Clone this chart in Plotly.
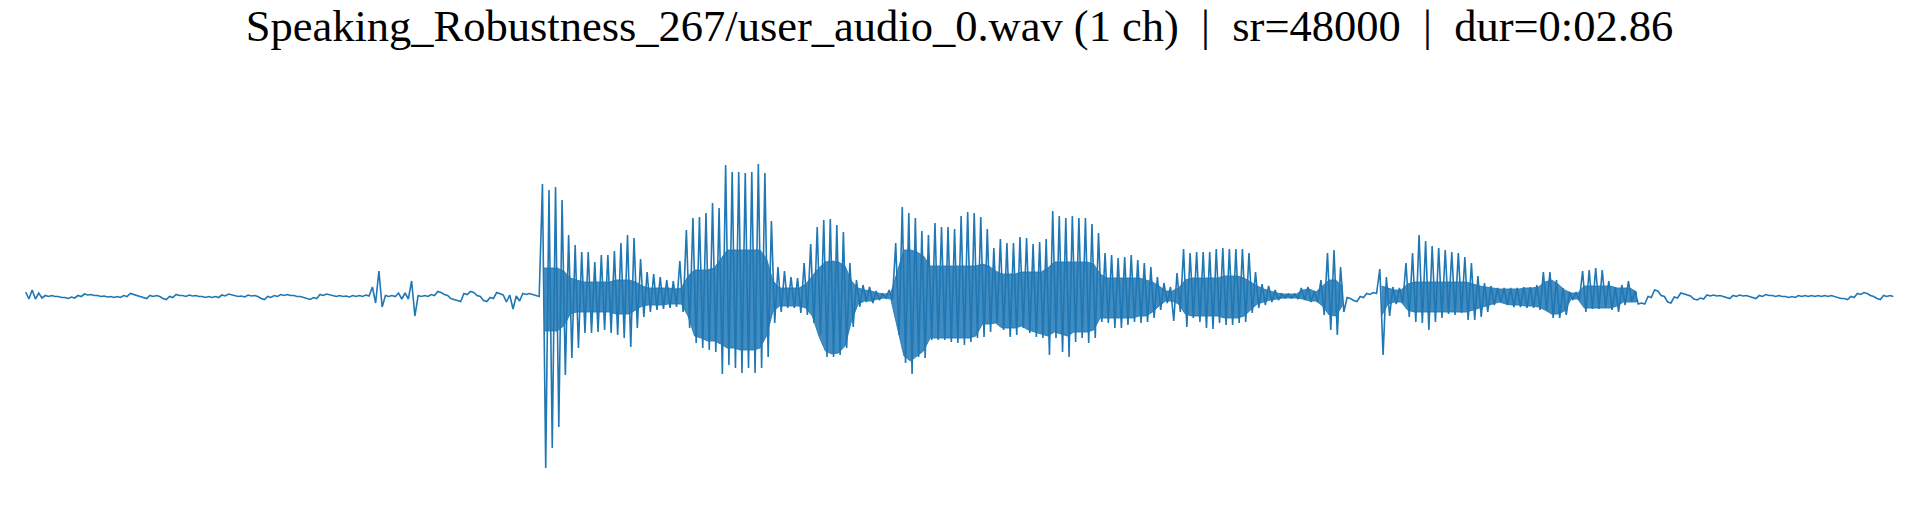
import plotly.graph_objects as go

# Audio envelope, one bin per 10 ms (0 .. 2.86 s).
# Values are amplitudes in thousandths of full scale.
BIN_S = 0.01
DURATION_S = 2.86
TITLE = "Speaking_Robustness_267/user_audio_0.wav (1 ch) \u00a0|\u00a0 sr=48000 \u00a0|\u00a0 dur=0:02.86"

# outer (peak) envelope
peak_hi = [
    16, 24, 12, 2, 2, -2, -6, -4, 2, 8,
    6, 2, 0, -2, -2, 2, 10, 2, -6, 2,
    2, -10, -2, 6, 2, 4, 2, -2, -2, -2,
    4, 8, 2, 0, 4, 2, -10, -2, 2, 6,
    6, 2, -2, -10, -6, 6, 8, 2, 2, 0,
    2, 2, 4, 36, 100, 2, 2, 12, 12, 60,
    2, 2, 6, 18, 6, -10, -18, 10, 18, 2,
    -18, -6, 14, 4, 4, 0, 10, 10, 2, 448,
    424, 436, 384, 244, 204, 176, 176, 136, 164, 164,
    180, 212, 244, 232, 148, 96, 88, 76, 64, 60,
    140, 264, 312, 316, 332, 372, 352, 524, 496, 496,
    492, 496, 528, 492, 300, 116, 100, 76, 72, 132,
    208, 276, 304, 308, 284, 256, 132, 64, 44, 36,
    20, 8, 24, 212, 356, 332, 312, 260, 244, 292,
    276, 276, 268, 320, 336, 332, 316, 268, 192, 228,
    212, 212, 236, 232, 208, 216, 228, 340, 320, 312,
    320, 312, 312, 288, 252, 172, 164, 152, 156, 164,
    144, 132, 116, 76, 52, 36, 92, 188, 172, 176,
    176, 176, 188, 192, 188, 188, 188, 172, 96, 48,
    40, 24, 8, 8, 8, 32, 36, 20, 64, 172,
    184, 116, -6, -18, -2, 10, 14, 108, 76, 36,
    32, 132, 172, 244, 220, 200, 192, 184, 176, 172,
    156, 132, 80, 52, 40, 32, 32, 32, 32, 36,
    36, 44, 96, 96, 64, 32, 16, 16, 100, 104,
    112, 104, 60, 36, 44, 60, 20, -28, -2, 24,
    2, -24, -4, 12, 4, -12, -8, 4, 4, 2,
    -6, 2, 4, 2, -6, 2, 6, 2, 2, -2,
    -2, 2, 2, 2, 2, 2, 2, -6, -10, -2,
    10, 14, 2, -10, 2, 2,
]
peak_lo = [
    -12, -12, -8, -2, -2, -6, -10, -8, -2, 4,
    2, -2, -4, -6, -6, -2, 6, -2, -10, -2,
    -2, -14, -6, 2, -2, 0, -2, -6, -6, -6,
    0, 4, -2, -4, 0, -2, -14, -6, -2, 2,
    2, -2, -6, -14, -10, 2, 4, -2, -2, -4,
    -2, -2, 0, -28, -44, -2, -2, -12, -12, -80,
    -2, -2, 2, 14, 2, -14, -22, 6, 14, -2,
    -22, -10, 10, -24, -52, -20, 6, 6, -2, -688,
    -608, -524, -316, -248, -208, -148, -148, -144, -136, -148,
    -156, -168, -204, -128, -84, -64, -56, -52, -48, -44,
    -64, -128, -188, -208, -216, -224, -312, -276, -288, -308,
    -288, -308, -288, -244, -108, -64, -48, -48, -68, -76,
    -108, -156, -244, -244, -236, -208, -124, -44, -24, -28,
    -16, -8, -16, -156, -268, -312, -244, -248, -176, -176,
    -176, -184, -188, -196, -184, -168, -164, -144, -108, -136,
    -164, -156, -128, -148, -164, -168, -236, -168, -224, -244,
    -184, -168, -188, -168, -104, -108, -128, -128, -116, -104,
    -108, -104, -88, -56, -28, -100, -64, -124, -88, -104,
    -128, -132, -108, -116, -116, -108, -104, -68, -48, -36,
    -24, -16, -8, -8, -12, -16, -24, -24, -76, -136,
    -156, -64, -10, -22, -6, 6, 10, -236, -80, -32,
    -28, -84, -104, -108, -136, -104, -88, -72, -76, -68,
    -96, -96, -84, -64, -36, -24, -36, -44, -44, -48,
    -48, -56, -60, -88, -88, -76, -16, -16, -64, -52,
    -52, -44, -56, -64, -36, -24, -32, -32, -6, 20,
    -2, -28, -8, 8, 0, -16, -12, 0, 0, -2,
    -10, -2, 0, -2, -10, -2, 2, -2, -2, -6,
    -6, -2, -2, -2, -2, -2, -2, -10, -14, -6,
    6, 10, -2, -14, -2, -2,
]

# dense inner (core) envelope of voiced parts; None where the signal is a single line
N = None
core_hi = [N] * 79 + [
    112,
    112, 112, 100, 72, 64, 56, 56, 56, 56, 56,
    64, 64, 64, 56, 40, 32, 32, 32, 32, 28,
    32, 80, 104, 104, 104, 112, 150, 184, 184, 184,
    184, 184, 184, 150, 60, 32, 32, 32, 32, 48,
    80, 112, 136, 140, 136, 120, 60, 32, 24, 20,
    12, 8, 12, 100, 184, 184, 176, 160, 120, 120,
    120, 120, 120, 120, 120, 120, 128, 120, 100, 88,
    88, 88, 96, 96, 96, 96, 112, 136, 136, 136,
    136, 136, 136, 128, 88, 72, 72, 72, 72, 72,
    72, 64, 56, 40, 20, 20, 32, 64, 72, 72,
    72, 72, 72, 80, 80, 80, 72, 56, 40, 28,
    20, 12, 8, 8, 8, 24, 28, 16, 40, 64,
    64, 40, N, N, N, N, N, 40, 32, 24,
    24, 48, 56, 56, 56, 56, 56, 56, 56, 56,
    56, 48, 40, 36, 32, 28, 28, 28, 28, 32,
    32, 36, 56, 64, 48, 24, 12, 12, 40, 40,
    40, 40, 40, 32, 32, 32, 16,
] + [N] * 39
core_lo = [N] * 79 + [
    -140,
    -140, -140, -120, -72, -64, -64, -64, -64, -64, -64,
    -72, -72, -72, -56, -40, -36, -36, -36, -32, -32,
    -32, -80, -160, -168, -180, -180, -192, -208, -208, -216,
    -216, -216, -208, -160, -60, -40, -40, -40, -40, -48,
    -80, -160, -220, -232, -228, -200, -100, -32, -20, -20,
    -12, -8, -12, -120, -240, -260, -240, -220, -168, -168,
    -168, -168, -168, -168, -168, -160, -112, -112, -108, -128,
    -128, -128, -120, -136, -144, -152, -160, -144, -152, -160,
    -144, -144, -144, -136, -88, -88, -88, -88, -88, -88,
    -80, -80, -64, -40, -20, -20, -32, -72, -80, -80,
    -80, -80, -80, -88, -88, -88, -80, -56, -32, -24,
    -16, -12, -8, -8, -8, -12, -20, -20, -40, -76,
    -80, -40, N, N, N, N, N, -80, -32, -24,
    -24, -56, -64, -64, -64, -64, -64, -64, -64, -64,
    -64, -56, -48, -40, -32, -24, -32, -36, -36, -40,
    -40, -44, -56, -72, -72, -60, -12, -12, -48, -48,
    -48, -48, -48, -40, -24, -24, -24,
] + [N] * 39

COLOR = "#1f77b4"

# zig-zag trace through the peak envelope (top of each bin, then bottom)
zx, zy = [], []
for i, (h, l) in enumerate(zip(peak_hi, peak_lo)):
    t0 = i * BIN_S
    zx += [t0 + BIN_S * 0.25, t0 + BIN_S * 0.75]
    zy += [h / 1000, l / 1000]

# filled core polygons for each contiguous voiced run
cx, cy = [], []
run = []
for i in range(len(core_hi) + 1):
    if i < len(core_hi) and core_hi[i] is not None:
        run.append(i)
        continue
    if run:
        ts = [j * BIN_S + BIN_S / 2 for j in run]
        cx += ts + ts[::-1] + [None]
        cy += [core_hi[j] / 1000 for j in run] + [core_lo[j] / 1000 for j in run[::-1]] + [None]
        run = []

fig = go.Figure()
fig.add_trace(go.Scatter(x=cx, y=cy, mode="lines", fill="toself",
                         fillcolor="rgba(31,119,180,0.85)",
                         line=dict(color="rgba(31,119,180,0.85)", width=1),
                         hoverinfo="skip", showlegend=False))
fig.add_trace(go.Scatter(x=zx, y=zy, mode="lines",
                         line=dict(color=COLOR, width=1.6), hoverinfo="skip", showlegend=False))

fig.update_layout(
    width=1920, height=528,
    paper_bgcolor="white", plot_bgcolor="white",
    margin=dict(l=24, r=25, t=148, b=44),
    title=dict(text=TITLE, x=0.5, xanchor="center", xref="paper",
               y=1 - 25.6 / 528, yanchor="middle", yref="container",
               font=dict(family="Liberation Serif, Times New Roman, serif", size=44.5, color="black")),
    xaxis=dict(range=[0, DURATION_S], visible=False),
    yaxis=dict(range=[-0.752, 0.592], visible=False),
    hovermode=False,
)

fig.write_html("out.html", config={"displayModeBar": False},
               post_script="document.body.style.margin='0';")
